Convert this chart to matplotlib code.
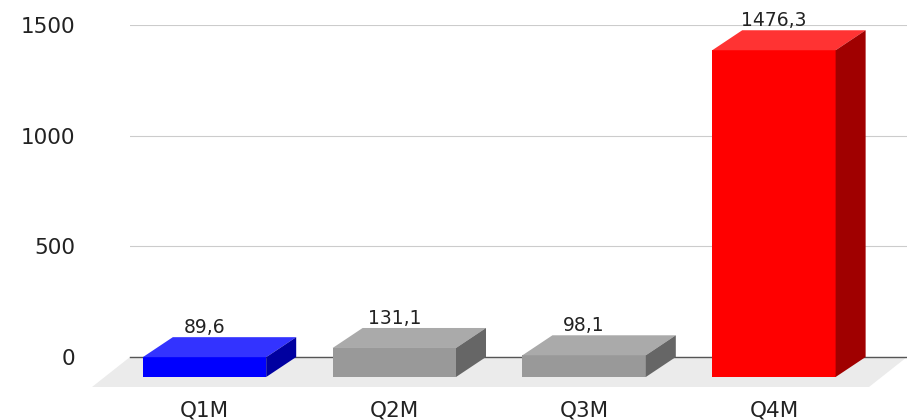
import numpy as np
import matplotlib
matplotlib.use("Agg")
import matplotlib.pyplot as plt
from matplotlib.patches import Polygon

# ── data ──────────────────────────────────────────────────
categories = ["Q1M", "Q2M", "Q3M", "Q4M"]
values = [89.6, 131.1, 98.1, 1476.3]
value_labels = ["89,6", "131,1", "98,1", "1476,3"]
y_ticks = [0, 500, 1000, 1500]

# front / top / side shades per bar
front_colors = ["#0000ff", "#999999", "#999999", "#ff0000"]
top_colors = ["#3333ff", "#aaaaaa", "#aaaaaa", "#ff3333"]
side_colors = ["#0000a0", "#666666", "#666666", "#a00000"]

plt.rcParams["font.family"] = ["DejaVu Sans"]
TEXT = "#222222"

# ── figure ────────────────────────────────────────────────
DPI = 100
W, H = 907, 420
fig = plt.figure(figsize=(W / DPI, H / DPI), dpi=DPI)
# axes = back wall of the 3d box
ax = fig.add_axes([130 / W, 63 / H, (W - 130) / W, 332 / H])
ax.set_xlim(-0.5506, 3.543)
ax.set_ylim(0, 1500)
for s in ax.spines.values():
    s.set_visible(False)

# depth of bars and floor in pixels, converted to data units
BAR_DX, BAR_DY = 30, 20
FLOOR_DX, FLOOR_DY = 38, 30
inv = ax.transData.inverted()
origin = inv.transform(ax.transData.transform((0, 0)))
def px_to_data(dx, dy):
    p0 = ax.transData.transform((0, 0))
    d = inv.transform((p0[0] + dx, p0[1] + dy)) - origin
    return d[0], d[1]

bdx, bdy = px_to_data(BAR_DX, BAR_DY)
fdx, fdy = px_to_data(FLOOR_DX, FLOOR_DY)

xs = np.arange(len(categories))
width = 0.65

# grid on the back wall
ax.set_yticks(y_ticks)
ax.set_yticklabels([str(t) for t in y_ticks], fontsize=15.5, color=TEXT)
ax.tick_params(axis="y", length=0, pad=39.5)
ax.yaxis.grid(True, color="#cccccc", linewidth=0.8, zorder=0)
ax.set_axisbelow(True)

# floor
x0, x1 = ax.get_xlim()
floor = Polygon([(x0, 0), (x1, 0), (x1 - fdx, -fdy), (x0 - fdx, -fdy)],
                closed=True, facecolor="#ebebeb", edgecolor="none",
                zorder=1, clip_on=False)
ax.add_patch(floor)
ax.axhline(0, color="#555555", linewidth=1.0, zorder=1.5, clip_on=False)

# bars: front face, top, right side
fx = xs - bdx
ax.bar(fx, values, width=width, bottom=-bdy, color=front_colors,
       edgecolor="none", zorder=3, clip_on=False)
for i, v in enumerate(values):
    l, r = fx[i] - width / 2, fx[i] + width / 2
    top = Polygon([(l, v - bdy), (r, v - bdy), (r + bdx, v), (l + bdx, v)],
                  closed=True, facecolor=top_colors[i], edgecolor="none",
                  zorder=3, clip_on=False)
    side = Polygon([(r, -bdy), (r + bdx, 0), (r + bdx, v), (r, v - bdy)],
                   closed=True, facecolor=side_colors[i], edgecolor="none",
                   zorder=3, clip_on=False)
    ax.add_patch(top)
    ax.add_patch(side)
    ax.annotate(value_labels[i], (fx[i], v), xytext=(0, 2.9),
                textcoords="offset points", ha="center", va="baseline",
                fontsize=13.5, color=TEXT, zorder=5)

# category labels under the front faces
ax.set_xticks(fx)
ax.set_xticklabels(categories, fontsize=15.5, color=TEXT)
ax.tick_params(axis="x", length=0, pad=31)

fig.savefig("out.png", dpi=DPI, facecolor="white")
